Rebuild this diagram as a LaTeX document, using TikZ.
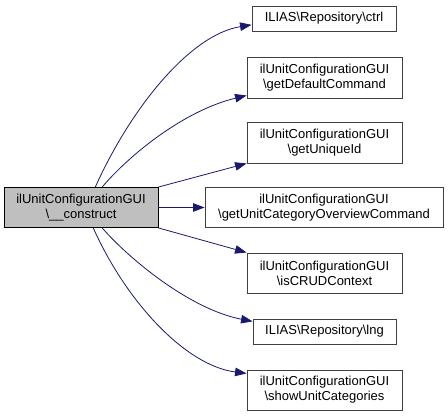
\documentclass[tikz,border=0pt]{standalone}
\usepackage{fontspec}
\setmainfont{Liberation Sans}
\usetikzlibrary{arrows.meta}
\definecolor{callblue}{HTML}{191970}
\definecolor{rootgray}{HTML}{BFBFBF}

\begin{document}
\begin{tikzpicture}[x=1pt,y=1pt,
  fn/.style={draw=black!75,line width=0.9pt,align=center,inner sep=2pt,
    font=\fontsize{13}{15}\selectfont,minimum height=40pt},
  onerow/.style={minimum height=25pt},
  root/.style={fill=rootgray,draw=black},
  call/.style={draw=callblue,line width=0.8pt,-{Triangle[length=11.5pt,width=8.5pt]}}]
  \useasboundingbox (0,0) rectangle (448,417);
  \node[fn,root,minimum width=154pt] (src) at (81,209.5) {ilUnitConfigurationGUI\\\textbackslash\_\_construct};
  \node[fn,onerow,minimum width=144pt] (ctrl) at (324,398.5) {ILIAS\textbackslash Repository\textbackslash ctrl};
  \node[fn,minimum width=155pt,minimum height=41pt] (defcmd) at (324.5,339.5) {ilUnitConfigurationGUI\\\textbackslash getDefaultCommand};
  \node[fn,minimum width=155pt,minimum height=41pt] (uid) at (324.5,274.5) {ilUnitConfigurationGUI\\\textbackslash getUniqueId};
  \node[fn,minimum width=238pt] (overview) at (324,209.5) {ilUnitConfigurationGUI\\\textbackslash getUnitCategoryOverviewCommand};
  \node[fn,minimum width=155pt] (crud) at (324.5,144) {ilUnitConfigurationGUI\\\textbackslash isCRUDContext};
  \node[fn,onerow,minimum width=143pt] (lng) at (324.5,85.5) {ILIAS\textbackslash Repository\textbackslash lng};
  \node[fn,minimum width=155pt] (showcat) at (324.5,27) {ilUnitConfigurationGUI\\\textbackslash showUnitCategories};

  \draw[call] (src.55) .. controls +(35,78) and +(-62,-10) .. (ctrl.185);
  \draw[call] (src.44) .. controls +(28,33) and +(-62,-15) .. (defcmd.193);
  \draw[call] (src.north east) -- (uid.south west);
  \draw[call] (src.east) -- (overview.west);
  \draw[call] (src.south east) -- (crud.north west);
  \draw[call] (src.-44) .. controls +(28,-32) and +(-62,12) .. (lng.172);
  \draw[call] (src.-59) .. controls +(32,-72) and +(-62,8) .. (showcat.168);
\end{tikzpicture}
\end{document}
